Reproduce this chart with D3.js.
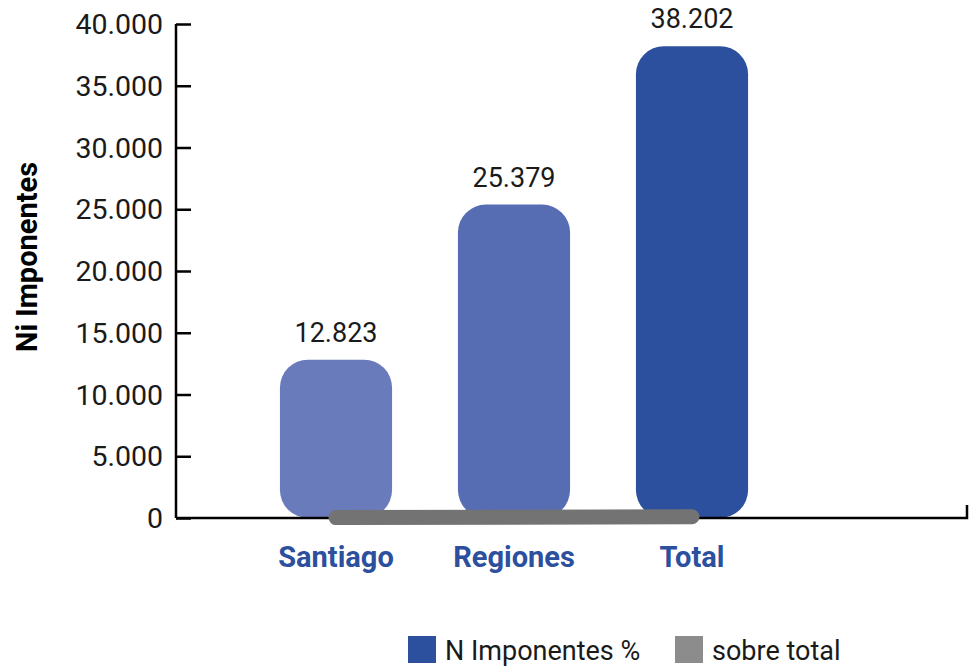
<!DOCTYPE html>
<html>
<head>
<meta charset="utf-8">
<script src="https://cdn.jsdelivr.net/npm/d3@7"></script>
<style>
  body { margin: 0; background: #fff; }
  svg text { font-family: Roboto, "Noto Sans", sans-serif; }
</style>
</head>
<body>
<div id="chart"></div>
<script>
// data
const categories = ["Santiago", "Regiones", "Total"]
const imponentes = [12823, 25379, 38202]
const sobreTotal = [33.6, 66.4, 100]   // percent, drawn on the same axis so it sits on the baseline
const barColors = ["#6a7bbb", "#576db3", "#2c4f9e"]
const yTicks = [0, 5000, 10000, 15000, 20000, 25000, 30000, 35000, 40000]

function main(){
  const width = 977
  const height = 668

  const svg = d3.select("#chart")
      .append("svg")
      .attr("width", width)
      .attr("height", height)

  const fmt = d3.formatLocale({decimal: ",", thousands: ".", grouping: [3], currency: ["$", ""]}).format(",")

  const y = d3.scaleLinear()
    .domain([0, 40000])
    .range([518, 24])

  const x = d3.scaleBand()
    .domain(categories)
    .range([247, 781])
    .paddingInner(0.37)
    .paddingOuter(0.185)

  // y axis: ticks on the inside
  const yAxis = svg.append("g")
    .attr("transform", "translate(176,0)")
    .call(d3.axisRight(y).tickValues(yTicks).tickSize(15).tickFormat(""))
  yAxis.select(".domain").attr("stroke", "#000").attr("stroke-width", 2.5)
    .attr("d", "M0," + y(40000) + "V" + y(0))
  yAxis.selectAll(".tick line").attr("stroke", "#000").attr("stroke-width", 2.5)

  svg.append("g")
    .selectAll("text")
    .data(yTicks)
    .join("text")
    .attr("x", 163)
    .attr("y", d => y(d) + 10)
    .attr("text-anchor", "end")
    .attr("font-size", 28.5)
    .attr("fill", "#1a1a1a")
    .text(d => fmt(d))

  // bars
  svg.append("g")
    .selectAll("rect")
    .data(imponentes)
    .join("rect")
    .attr("x", (d, i) => x(categories[i]))
    .attr("y", d => y(d))
    .attr("width", x.bandwidth())
    .attr("height", d => y(0) - y(d))
    .attr("rx", 28)
    .attr("fill", (d, i) => barColors[i])

  // x axis line with the small end tick
  svg.append("path")
    .attr("d", "M176," + y(0) + "H967V" + (y(0) - 13))
    .attr("fill", "none")
    .attr("stroke", "#000")
    .attr("stroke-width", 2.5)

  // value labels
  svg.append("g")
    .selectAll("text")
    .data(imponentes)
    .join("text")
    .attr("x", (d, i) => x(categories[i]) + x.bandwidth() / 2)
    .attr("y", d => y(d) - 18)
    .attr("text-anchor", "middle")
    .attr("font-size", 27)
    .attr("fill", "#1a1a1a")
    .text(d => fmt(d))

  // "sobre total" line
  const line = d3.line()
    .x((d, i) => x(categories[i]) + x.bandwidth() / 2)
    .y(d => y(d))
  svg.append("path")
    .datum(sobreTotal)
    .attr("d", line)
    .attr("fill", "none")
    .attr("stroke", "#737373")
    .attr("stroke-width", 15)
    .attr("stroke-linecap", "round")

  // category labels
  svg.append("g")
    .selectAll("text")
    .data(categories)
    .join("text")
    .attr("x", d => x(d) + x.bandwidth() / 2)
    .attr("y", 567)
    .attr("text-anchor", "middle")
    .attr("font-size", 29)
    .attr("font-weight", "bold")
    .attr("fill", "#2c4f9e")
    .text(d => d)

  // y axis title
  svg.append("text")
    .attr("transform", "translate(37,257) rotate(-90)")
    .attr("text-anchor", "middle")
    .attr("font-size", 29)
    .attr("font-weight", "bold")
    .attr("fill", "#000")
    .text("Ni Imponentes")

  // legend
  const legend = [
    {label: "N Imponentes %", color: "#2c4f9e", x: 408},
    {label: "sobre total", color: "#8c8c8c", x: 675}
  ]
  const lg = svg.append("g")
    .selectAll("g")
    .data(legend)
    .join("g")
    .attr("transform", d => "translate(" + d.x + ",636)")
  lg.append("rect")
    .attr("width", 28)
    .attr("height", 27)
    .attr("fill", d => d.color)
  lg.append("text")
    .attr("x", 37)
    .attr("y", 24)
    .attr("font-size", 27)
    .attr("fill", "#1a1a1a")
    .text(d => d.label)
}
main();
</script>
</body>
</html>
